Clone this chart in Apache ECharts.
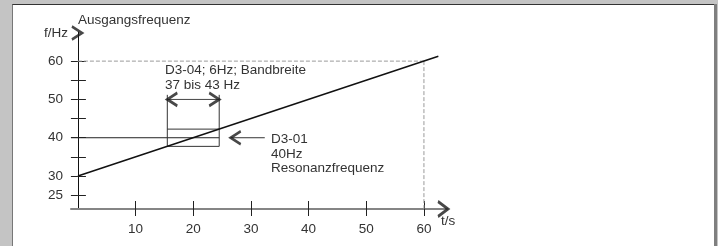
<!DOCTYPE html>
<html>
<head>
<meta charset="utf-8">
<script src="https://cdn.jsdelivr.net/npm/echarts@6/dist/echarts.min.js"></script>
<style>
html,body{margin:0;padding:0;background:#c4c4c4;}
#outer{position:absolute;left:0;top:0;width:718px;height:246px;background:#c4c4c4;overflow:hidden;}
#inner{position:absolute;left:12px;top:4px;width:701px;height:242px;background:#fff;border-top:1px solid #333;border-left:1px solid #777;}
#rightbar{position:absolute;left:714px;top:4px;width:3px;height:242px;background:#7f7f7f;}
#chart{position:absolute;left:0;top:0;width:718px;height:246px;}
</style>
</head>
<body>
<div id="outer"><div id="inner"></div><div id="rightbar"></div></div>
<div id="chart"></div>
<script>
// ---- data ----
const tTicks = [10, 20, 30, 40, 50, 60];
const fLabels = [25, 30, 40, 50, 60];
const fTicks = [25, 30, 35, 40, 45, 50, 55, 60];
const tRange = [-1.2, 64];
const fRange = [21.4, 67.6];
const rampT = [0, 62.5];
const rampF = [30, 61.25];
const bandT = [15.5, 24.5];
const bandF = [37.75, 42.25];
const bandArrowF = 50;
const bandSideTopF = 51.2;
const resonanceF = 40;
const resonanceArrowT = [26.5, 32.4];
const limitT = 60;
const limitF = 60;

const FONT = 'Liberation Sans, Arial, sans-serif';
const TXT = '#333';
const CHEV = 'path://M0,0L10,7L0,14';

function seg(points, color, width, type) {
  return {
    type: 'line', data: points, symbol: 'none', silent: true, animation: false,
    lineStyle: { color: color, width: width, type: type || 'solid' }, z: 3
  };
}

const chart = echarts.init(document.getElementById('chart'), null, { renderer: 'canvas' });
const xBase = {
  type: 'value', min: tRange[0], max: tRange[1], position: 'bottom',
  splitLine: { show: false }
};
const yBase = {
  type: 'value', min: fRange[0], max: fRange[1], position: 'left',
  splitLine: { show: false }
};

chart.setOption({
  animation: false,
  grid: { left: 71, right: 718 - 447, top: 32, bottom: 246 - 209, containLabel: false },
  xAxis: [
    Object.assign({}, xBase, {
      axisLine: { show: true, lineStyle: { color: '#858585', width: 2 } },
      axisTick: { show: true, inside: false, length: 7, customValues: tTicks, lineStyle: { color: '#222', width: 1 } },
      axisLabel: { show: true, customValues: tTicks, margin: 13, color: TXT, fontFamily: FONT, fontSize: 13.5 }
    }),
    Object.assign({}, xBase, {
      axisLine: { show: true, lineStyle: { color: 'rgba(0,0,0,0)' } },
      axisTick: { show: true, inside: true, length: 8, customValues: tTicks, lineStyle: { color: '#222', width: 1 } },
      axisLabel: { show: false }
    })
  ],
  yAxis: [
    Object.assign({}, yBase, {
      axisLine: { show: true, onZero: true, lineStyle: { color: '#111', width: 1 } },
      axisTick: { show: true, inside: false, length: 7, customValues: fTicks, lineStyle: { color: '#222', width: 1 } },
      axisLabel: { show: true, customValues: fLabels, margin: 8, color: TXT, fontFamily: FONT, fontSize: 13.5 }
    }),
    Object.assign({}, yBase, {
      axisLine: { show: true, onZero: true, lineStyle: { color: 'rgba(0,0,0,0)' } },
      axisTick: { show: true, inside: true, length: 8, customValues: fTicks, lineStyle: { color: '#222', width: 1 } },
      axisLabel: { show: false }
    })
  ],
  series: [
    seg([[0, limitF], [limitT, limitF]], '#9a9a9a', 1, [4, 2]),
    seg([[limitT, limitF], [limitT, fRange[0]]], '#9a9a9a', 1, [4, 2]),
    seg([[tRange[0], resonanceF], [bandT[1], resonanceF]], '#222', 1),
    seg([[bandT[0], bandSideTopF], [bandT[0], bandF[0]], [bandT[1], bandF[0]], [bandT[1], bandSideTopF]], '#333', 1),
    seg([[bandT[0], bandF[1]], [bandT[1], bandF[1]]], '#333', 1),
    seg([[bandT[0], bandArrowF], [bandT[1], bandArrowF]], '#444', 1),
    seg([[resonanceArrowT[0], resonanceF], [resonanceArrowT[1], resonanceF]], '#333', 1),
    Object.assign(seg([[rampT[0], rampF[0]], [rampT[1], rampF[1]]], '#111', 1.5), { z: 4 }),
    {
      type: 'scatter', silent: true, animation: false, z: 5,
      symbol: CHEV,
      itemStyle: { color: 'none', borderColor: '#1a1a1a', borderWidth: 2.6 },
      data: [
        { value: [bandT[0], bandArrowF], symbolSize: [10, 13], symbolRotate: 180, symbolOffset: [5, 0] },
        { value: [bandT[1], bandArrowF], symbolSize: [10, 13], symbolRotate: 0, symbolOffset: [-5, 0] },
        { value: [resonanceArrowT[0], resonanceF], symbolSize: [10, 13], symbolRotate: 180, symbolOffset: [5, 0] },
        { value: [0, fRange[1]], symbolSize: [10, 13], symbolRotate: 0, symbolOffset: [-1, 1] },
        { value: [tRange[1], fRange[0]], symbolSize: [10, 15], symbolRotate: 0, symbolOffset: [-4, 0] }
      ]
    }
  ],
  graphic: [
    { type: 'text', style: { x: 78, y: 20, text: 'Ausgangsfrequenz', fill: TXT, font: '13.5px ' + FONT, textVerticalAlign: 'middle' } },
    { type: 'text', style: { x: 44, y: 33, text: 'f/Hz', fill: TXT, font: '13.5px ' + FONT, textVerticalAlign: 'middle' } },
    { type: 'text', style: { x: 165, y: 70, text: 'D3-04; 6Hz; Bandbreite', fill: TXT, font: '13.5px ' + FONT, textVerticalAlign: 'middle' } },
    { type: 'text', style: { x: 165, y: 85, text: '37 bis 43 Hz', fill: TXT, font: '13.5px ' + FONT, textVerticalAlign: 'middle' } },
    { type: 'text', style: { x: 271, y: 139, text: 'D3-01', fill: TXT, font: '13.5px ' + FONT, textVerticalAlign: 'middle' } },
    { type: 'text', style: { x: 271, y: 154, text: '40Hz', fill: TXT, font: '13.5px ' + FONT, textVerticalAlign: 'middle' } },
    { type: 'text', style: { x: 271, y: 168.5, text: 'Resonanzfrequenz', fill: TXT, font: '13.5px ' + FONT, textVerticalAlign: 'middle' } },
    { type: 'text', style: { x: 441, y: 221, text: 't/s', fill: TXT, font: '13.5px ' + FONT, textVerticalAlign: 'middle' } }
  ]
});
</script>
</body>
</html>
